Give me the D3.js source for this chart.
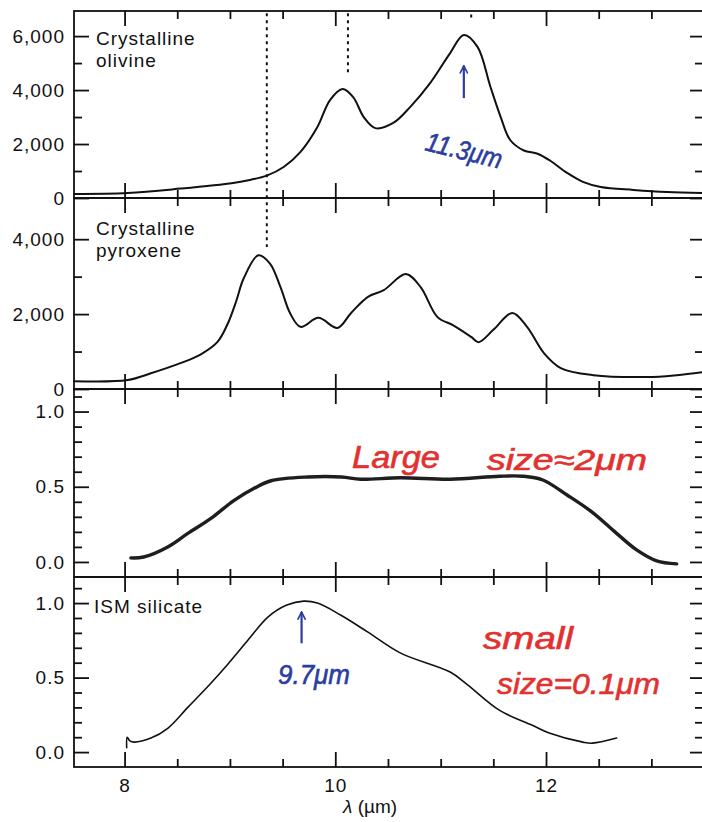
<!DOCTYPE html>
<html>
<head>
<meta charset="utf-8">
<script src="https://cdn.jsdelivr.net/npm/d3@7"></script>
<style>
  body { margin: 0; background: #fff; }
  svg text { font-family: "Liberation Sans", Arial, sans-serif; }
</style>
</head>
<body>
<div id="chart"></div>
<script>
// Spectra: wavelength (µm) and value for each panel
const olivineWl  = [7.52, 8.03, 8.53, 9.03, 9.2, 9.35, 9.51, 9.67, 9.83, 9.95, 10.07, 10.17, 10.27, 10.38, 10.55, 10.71, 10.9, 11.09, 11.22, 11.35, 11.47, 11.57, 11.66, 11.79, 11.92, 12.04, 12.2, 12.35, 12.52, 12.83, 13.15, 13.49];
const olivineVal = [150, 185, 350, 560, 680, 830, 1150, 1710, 2630, 3630, 4040, 3740, 3000, 2590, 2780, 3370, 4260, 5370, 6040, 5600, 4150, 3000, 2150, 1760, 1640, 1380, 930, 600, 410, 300, 220, 185];

const pyroxeneWl  = [7.52, 8.03, 8.25, 8.53, 8.72, 8.88, 8.98, 9.06, 9.13, 9.27, 9.38, 9.48, 9.57, 9.67, 9.84, 10.02, 10.15, 10.31, 10.46, 10.67, 10.81, 10.97, 11.12, 11.29, 11.36, 11.5, 11.68, 11.82, 11.98, 12.14, 12.45, 12.96, 13.24, 13.49];
const pyroxeneVal = [210, 240, 420, 690, 920, 1250, 1750, 2350, 2950, 3570, 3350, 2720, 2030, 1660, 1900, 1630, 2030, 2460, 2640, 3070, 2720, 1920, 1700, 1390, 1250, 1580, 2030, 1660, 960, 560, 370, 320, 370, 450];

const largeWl  = [8.06, 8.18, 8.41, 8.6, 8.82, 9.04, 9.23, 9.39, 9.74, 10.06, 10.24, 10.62, 11.09, 11.56, 11.78, 11.97, 12.2, 12.44, 12.67, 12.86, 13.05, 13.24];
const largeVal = [0.027, 0.033, 0.1, 0.19, 0.29, 0.41, 0.49, 0.54, 0.565, 0.565, 0.55, 0.56, 0.55, 0.57, 0.57, 0.545, 0.445, 0.33, 0.19, 0.08, 0.007, -0.013];

const ismWl  = [8.02, 8.025, 8.05, 8.09, 8.25, 8.41, 8.6, 8.79, 8.98, 9.17, 9.36, 9.54, 9.7, 9.83, 10.05, 10.31, 10.62, 11.09, 11.25, 11.56, 11.87, 12.03, 12.35, 12.44, 12.67];
const ismVal = [0.03, 0.1, 0.075, 0.067, 0.094, 0.16, 0.3, 0.44, 0.59, 0.75, 0.906, 0.987, 1.013, 1.0, 0.92, 0.805, 0.664, 0.537, 0.455, 0.28, 0.18, 0.128, 0.067, 0.06, 0.094];

// Tick labels
const xTickLabels = [8, 10, 12];
const countMajor = [0, 2000, 4000, 6000];
const countMinor = [1000, 3000, 5000];
const normMajor = [0.0, 0.5, 1.0];
const normMinor = [0.1, 0.2, 0.3, 0.4, 0.6, 0.7, 0.8, 0.9, 1.1];

// Panel names
const panelLabels = [["Crystalline", "olivine"], ["Crystalline", "pyroxene"], [], ["ISM silicate"]];

// Marked features (µm): dotted guides at the top of the figure
const guideWl = [9.35, 10.12, 11.29];

const width = 702, height = 822;
const left = 74, right = 703;

const svg = d3.select("#chart")
    .append("svg")
        .attr("width", width)
        .attr("height", height)
        .attr("viewBox", `0 0 ${width} ${height}`);

const x = d3.scaleLinear()
    .domain([7.52, 13.49])
    .range([left, right]);

const fmtCount = d3.format(",");
const fmtNorm = d3.format(".1f");

const panels = [
    { top: 11,  bottom: 198, domain: [0, 6930],     major: countMajor, minor: countMinor, fmt: fmtCount,
      wl: olivineWl, val: olivineVal, width: 2 },
    { top: 198, bottom: 389, domain: [0, 5100],     major: countMajor.slice(0, 3), minor: countMinor.slice(0, 2), fmt: fmtCount,
      wl: pyroxeneWl, val: pyroxeneVal, width: 2 },
    { top: 389, bottom: 577, domain: [-0.1, 1.15],  major: normMajor, minor: normMinor, fmt: fmtNorm,
      wl: largeWl, val: largeVal, width: 3.4, color: "#1e1e1e" },
    { top: 577, bottom: 767, domain: [-0.1, 1.175], major: normMajor, minor: normMinor, fmt: fmtNorm,
      wl: ismWl, val: ismVal, width: 1.6 }
];

// every half micron gets a tick, the labelled ones are longer
const xMajor = xTickLabels;
const xMinor = d3.range(8, 13.01, 0.5).filter(d => !xMajor.includes(d));

panels.forEach((p, i) => {
    p.y = d3.scaleLinear().domain(p.domain).range([p.bottom, p.top]);
    const g = svg.append("g").attr("class", "panel");

    // Left axis: inward ticks, labels outside
    g.append("g")
        .attr("transform", `translate(${left},0)`)
        .call(d3.axisLeft(p.y).tickValues(p.major).tickSize(-15).tickPadding(9).tickFormat(p.fmt));
    g.append("g")
        .attr("transform", `translate(${left},0)`)
        .call(d3.axisLeft(p.y).tickValues(p.minor).tickSize(-8).tickFormat(""));

    // Right axis
    g.append("g")
        .attr("transform", `translate(${right},0)`)
        .call(d3.axisRight(p.y).tickValues(p.major).tickSize(-13).tickFormat(""));
    g.append("g")
        .attr("transform", `translate(${right},0)`)
        .call(d3.axisRight(p.y).tickValues(p.minor).tickSize(-8).tickFormat(""));

    // Top and bottom axes
    g.append("g")
        .attr("transform", `translate(0,${p.top})`)
        .call(d3.axisTop(x).tickValues(xMajor).tickSize(-15).tickFormat(""));
    g.append("g")
        .attr("transform", `translate(0,${p.top})`)
        .call(d3.axisTop(x).tickValues(xMinor).tickSize(-8).tickFormat(""));
    g.append("g")
        .attr("transform", `translate(0,${p.bottom})`)
        .call(d3.axisBottom(x).tickValues(xMajor).tickSize(-15)
            .tickPadding(12)
            .tickFormat(i === panels.length - 1 ? d3.format("d") : ""));
    g.append("g")
        .attr("transform", `translate(0,${p.bottom})`)
        .call(d3.axisBottom(x).tickValues(xMinor).tickSize(-8).tickFormat(""));

    // Frame
    g.append("rect")
        .attr("x", left).attr("y", p.top)
        .attr("width", right - left).attr("height", p.bottom - p.top)
        .attr("fill", "none").attr("stroke", "#111").attr("stroke-width", 1.8);

    // Spectrum
    const pts = p.wl.map((w, k) => [w, p.val[k]]);
    g.append("path")
        .datum(pts)
        .attr("fill", "none")
        .attr("stroke", p.color || "#111")
        .attr("stroke-width", p.width)
        .attr("stroke-linejoin", "round")
        .attr("stroke-linecap", "round")
        .attr("d", d3.line().x(d => x(d[0])).y(d => p.y(d[1])).curve(d3.curveCatmullRom.alpha(0.5)));

    // Panel name
    const lbl = panelLabels[i];
    const lx = i === 3 ? 94 : 96;
    const ly = i === 0 ? 45 : i === 1 ? 235 : 613;
    lbl.forEach((t, k) => {
        g.append("text")
            .attr("x", lx).attr("y", ly + k * 22)
            .attr("font-size", 19)
            .attr("letter-spacing", 1)
            .attr("fill", "#111")
            .text(t);
    });
});

// Axis styling
svg.selectAll(".domain").remove();
svg.selectAll(".tick line").attr("stroke", "#111").attr("stroke-width", 1.8);
svg.selectAll(".tick text")
    .attr("font-family", "Liberation Sans, Arial, sans-serif")
    .attr("font-size", 19)
    .attr("letter-spacing", 1)
    .attr("fill", "#111");

// x-axis title
svg.append("text")
    .attr("x", 343).attr("y", 813)
    .attr("font-size", 19)
    .attr("fill", "#111")
    .html('<tspan font-style="italic">λ</tspan> (µm)');

// Dotted guides at the marked features
const [p1, p2] = panels;
const guides = [
    { wl: guideWl[0], y1: p1.y(6850), y2: p2.y(3790) },
    { wl: guideWl[1], y1: p1.y(6850), y2: p1.y(4560) },
    { wl: guideWl[2], y1: p1.y(6800), y2: p1.y(6600) }
];
svg.selectAll(".guide")
    .data(guides)
    .join("line")
        .attr("class", "guide")
        .attr("x1", d => x(d.wl)).attr("x2", d => x(d.wl))
        .attr("y1", d => d.y1).attr("y2", d => d.y2)
        .attr("stroke", "#111")
        .attr("stroke-width", 2)
        .attr("stroke-dasharray", "3,4");

// Handwritten notes
const blue = "#2b3da0", red = "#e2312f";
svg.append("defs")
    .append("marker")
        .attr("id", "arrowBlue")
        .attr("viewBox", "0 0 10 10")
        .attr("refX", 9).attr("refY", 5)
        .attr("markerWidth", 9).attr("markerHeight", 9)
        .attr("markerUnits", "userSpaceOnUse")
        .attr("orient", "auto")
        .append("path")
            .attr("d", "M1,1 L9,5 L1,9")
            .attr("fill", "none")
            .attr("stroke", blue)
            .attr("stroke-width", 1.8)
            .attr("stroke-linecap", "round");

const p4 = panels[3];
const arrows = [
    { x: x(11.22), y1: p1.y(3700), y2: p1.y(4900) },
    { x: x(9.68),  y1: p4.y(0.73), y2: p4.y(0.94) }
];
svg.selectAll(".note-arrow")
    .data(arrows)
    .join("line")
        .attr("class", "note-arrow")
        .attr("x1", d => d.x).attr("x2", d => d.x)
        .attr("y1", d => d.y1).attr("y2", d => d.y2)
        .attr("stroke", blue)
        .attr("stroke-width", 2.2)
        .attr("marker-end", "url(#arrowBlue)");

const notes = [
    { t: "11.3μm", x: 424, y: 150, size: 27, len: 78, color: blue, rot: 14 },
    { t: "9.7μm", x: 278, y: 684, size: 27, len: 72, color: blue, rot: 0 },
    { t: "Large", x: 352, y: 468, size: 31, len: 88, color: red, rot: 0 },
    { t: "size≈2μm", x: 487, y: 470, size: 29, len: 160, color: red, rot: 0 },
    { t: "small", x: 483, y: 649, size: 31, len: 90, color: red, rot: 0 },
    { t: "size=0.1μm", x: 497, y: 694, size: 29, len: 163, color: red, rot: 0 }
];
svg.selectAll(".note")
    .data(notes)
    .join("text")
        .attr("class", "note")
        .attr("x", d => d.x).attr("y", d => d.y)
        .attr("transform", d => `rotate(${d.rot},${d.x},${d.y})`)
        .attr("font-family", "DejaVu Sans, sans-serif")
        .attr("font-style", "italic")
        .attr("font-size", d => d.size)
        .attr("textLength", d => d.len)
        .attr("lengthAdjust", "spacingAndGlyphs")
        .attr("fill", d => d.color)
        .attr("stroke", d => d.color)
        .attr("stroke-width", 0.6)
        .text(d => d.t);
</script>
</body>
</html>
